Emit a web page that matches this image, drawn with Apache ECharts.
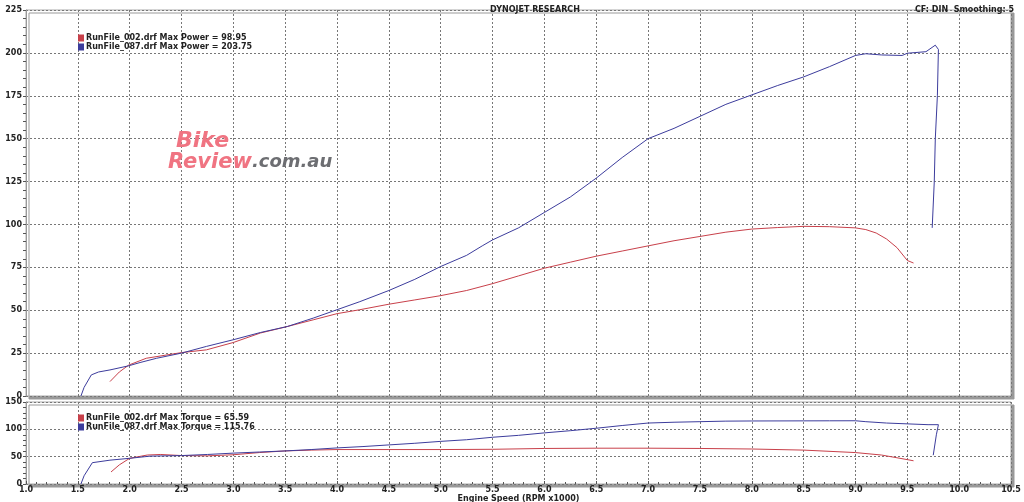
<!DOCTYPE html>
<html>
<head>
<meta charset="utf-8">
<script src="https://cdn.jsdelivr.net/npm/echarts@6/dist/echarts.min.js"></script>
<style>html,body{margin:0;padding:0;background:#fff}#c{width:1024px;height:502px}</style>
</head>
<body>
<div id="c"></div>
<script>
// ---- data (rpm x1000, value) ----
const powerTicks = [0, 25, 50, 75, 100, 125, 150, 175, 200, 225];
const torqueTicks = [0, 50, 100, 150];
const rpmTicks = [1.0, 1.5, 2.0, 2.5, 3.0, 3.5, 4.0, 4.5, 5.0, 5.5, 6.0, 6.5, 7.0, 7.5, 8.0, 8.5, 9.0, 9.5, 10.0, 10.5];

const runNames = ["RunFile_002.drf", "RunFile_087.drf"];
const maxPower = [98.95, 203.75];
const maxTorque = [65.59, 115.76];

const power002 = [[1.81,8.4],[1.9,14],[1.99,18],[2.16,22],[2.5,25.3],[2.74,26.9],[3.0,31.2],[3.26,36.7],[3.52,40.5],[3.77,44.4],[4.0,48],[4.22,50.3],[4.5,53.5],[4.75,56],[5.0,58.5],[5.25,61.5],[5.5,65.5],[5.75,70],[6.0,74.5],[6.25,78],[6.5,81.5],[6.75,84.5],[7.0,87.5],[7.25,90.5],[7.5,93],[7.75,95.5],[8.0,97.3],[8.25,98.2],[8.5,98.9],[8.75,98.7],[9.0,98],[9.1,97],[9.2,95],[9.3,91.5],[9.4,86.5],[9.5,79],[9.56,77.5]];
const power087 = [[1.53,0],[1.56,5],[1.63,12.3],[1.7,14],[1.81,15.2],[1.99,17.6],[2.1,19.5],[2.26,22],[2.5,25],[2.74,28.9],[3.0,32.8],[3.26,37],[3.52,40.5],[3.77,45.4],[4.0,50.3],[4.22,55],[4.5,61.5],[4.75,68],[5.0,75.5],[5.25,82],[5.4,87.5],[5.5,91],[5.75,98],[6.0,107],[6.25,116],[6.5,127],[6.75,139],[7.0,150],[7.25,156],[7.5,163],[7.75,170],[8.0,175.5],[8.25,181],[8.5,186],[8.75,192],[9.0,198.5],[9.1,199.5],[9.25,198.8],[9.45,198.5],[9.5,199.8],[9.68,200.7],[9.77,204.5],[9.8,202],[9.79,175],[9.77,150],[9.76,125],[9.74,98]];
const torque002 = [[1.82,22],[1.9,35],[2.0,47],[2.17,53],[2.3,54],[2.5,52],[2.75,51.5],[3.0,53.5],[3.25,57.5],[3.5,60.5],[3.75,62],[4.0,63],[4.5,63],[5.0,63],[5.5,63.5],[6.0,65],[6.5,65.5],[7.0,65.5],[7.5,65],[8.0,64],[8.5,62],[9.0,57.5],[9.25,53],[9.4,48],[9.56,42.5]];
const torque087 = [[1.53,0],[1.56,15],[1.64,39],[1.81,43.6],[2.0,47],[2.2,51],[2.5,52],[2.75,54],[3.0,56.5],[3.25,58.5],[3.5,60.5],[3.75,63],[4.0,66],[4.25,68.5],[4.5,71.5],[4.75,74.5],[5.0,78],[5.25,81],[5.5,85.5],[5.75,89],[6.0,93.5],[6.25,97.5],[6.5,102],[6.75,107],[7.0,111.5],[7.25,113],[7.5,114],[7.75,115],[8.0,115.3],[8.5,115.5],[8.75,115.6],[9.0,115.7],[9.1,114],[9.3,111.5],[9.5,110],[9.7,108.5],[9.8,108.5],[9.78,90],[9.75,52.7]];

const RED = '#c8404a';
const BLUE = '#3c3c9c';
const FONT = 'DejaVu Sans';

const pNames = runNames.map((n, i) => n + ' Max Power = ' + maxPower[i]);
const tNames = runNames.map((n, i) => n + ' Max Torque = ' + maxTorque[i]);

const gridStyle = {
  show: true, left: 26, right: 13, containLabel: false, outerBoundsMode: 'none',
  backgroundColor: '#fff',
  borderColor: '#aaa', borderWidth: 1,
  shadowColor: '#999', shadowBlur: 0, shadowOffsetX: 3, shadowOffsetY: 3
};
const split = { show: true, lineStyle: { color: '#777', type: [2, 2], width: 1 } };
const lbl = { fontFamily: FONT, fontSize: 8, fontWeight: 'bold', color: '#222' };

function xAx(gi, showLabel) {
  return {
    type: 'value', gridIndex: gi, min: 1.0, max: 10.5, interval: 0.5,
    axisLine: { show: false },
    axisTick: { show: showLabel, inside: true, length: 3, lineStyle: { color: '#555' } },
    minorTick: { show: showLabel, splitNumber: 5, length: 2, lineStyle: { color: '#555' } },
    splitLine: split,
    axisLabel: Object.assign({ show: showLabel, margin: 2, formatter: v => v.toFixed(1) }, lbl),
    name: showLabel ? 'Engine Speed (RPM x1000)' : '',
    nameLocation: 'middle', nameGap: 8,
    nameTextStyle: { fontFamily: FONT, fontSize: 8, fontWeight: 'bold', color: '#222' }
  };
}
function yAx(gi, max, interval, minorN, name, gap) {
  return {
    type: 'value', gridIndex: gi, min: 0, max: max, interval: interval,
    axisLine: { show: true, lineStyle: { color: '#999' } },
    axisTick: { show: true, length: 3, lineStyle: { color: '#555' } },
    minorTick: { show: true, splitNumber: minorN, length: 3, lineStyle: { color: '#555' } },
    splitLine: split,
    axisLabel: Object.assign({ margin: 4 }, lbl),
    name: name, nameLocation: 'middle', nameGap: gap, nameRotate: 90,
    nameTextStyle: { fontFamily: FONT, fontSize: 8, fontWeight: 'bold', color: '#222' }
  };
}
function line(name, data, color, xi, yi) {
  return {
    name: name, type: 'line', xAxisIndex: xi, yAxisIndex: yi, data: data,
    showSymbol: false, symbol: 'none', smooth: false,
    lineStyle: { color: color, width: 1 }, itemStyle: { color: color },
    emphasis: { disabled: true }, animation: false
  };
}
function legend(names, top) {
  return {
    data: names, left: 73, top: top, orient: 'vertical', itemGap: 1,
    itemWidth: 6, itemHeight: 7, icon: 'rect', selectedMode: false,
    textStyle: { fontFamily: FONT, fontSize: 8, fontWeight: 'bold', color: '#222', padding: [0, 0, 0, -3] }
  };
}

const chart = echarts.init(document.getElementById('c'), null, { renderer: 'canvas' });
chart.setOption({
  animation: false,
  backgroundColor: '#fff',
  title: [
    { text: 'DYNOJET RESEARCH', left: 530, top: 1, textAlign: 'center',
      textStyle: { fontFamily: FONT, fontSize: 8, fontWeight: 'bold', color: '#222' } },
    { text: 'CF: DIN  Smoothing: 5', right: 5, top: 1,
      textStyle: { fontFamily: FONT, fontSize: 8, fontWeight: 'bold', color: '#222' } }
  ],
  grid: [
    Object.assign({ top: 10, height: 386 }, gridStyle),
    Object.assign({ top: 402, height: 82 }, gridStyle)
  ],
  xAxis: [xAx(0, false), xAx(1, true)],
  yAxis: [yAx(0, 225, 25, 5, 'Power (hp)', 15), yAx(1, 150, 50, 5, 'Torque (ft-lbs)', 15)],
  legend: [legend(pNames, 29), legend(tNames, 409)],
  graphic: [
    { type: 'text', left: 176, top: 130, z: 1,
      style: { text: 'Bike', font: 'italic bold 22px "DejaVu Sans"', fill: '#f07482' } },
    { type: 'text', left: 168, top: 152, z: 1,
      style: { text: '{a|Review}{b|.com.au}',
        rich: {
          a: { font: 'italic bold 21px "DejaVu Sans"', fill: '#f07482', color: '#f07482' },
          b: { font: 'italic bold 18px "DejaVu Sans"', fill: '#6d6e72', color: '#6d6e72' }
        } } }
  ],
  series: [
    line(pNames[0], power002, RED, 0, 0),
    line(pNames[1], power087, BLUE, 0, 0),
    line(tNames[0], torque002, RED, 1, 1),
    line(tNames[1], torque087, BLUE, 1, 1)
  ]
});
</script>
</body>
</html>
